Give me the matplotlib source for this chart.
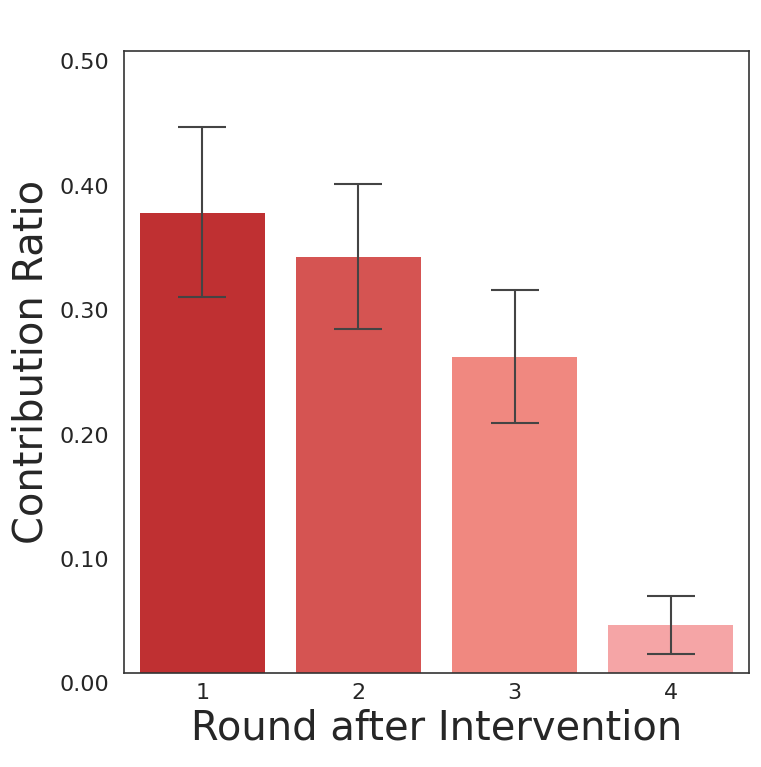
import matplotlib
matplotlib.use("Agg")
import matplotlib.pyplot as plt
import matplotlib.transforms as mtransforms
import numpy as np

rounds = ["1", "2", "3", "4"]
ratios = [0.370, 0.334, 0.254, 0.0386]
ci_low = [0.302, 0.2765, 0.201, 0.0153]
ci_high = [0.439, 0.393, 0.308, 0.0619]
colors = ["#BF3032", "#D55452", "#F08880", "#F5A5A6"]
yticks = [0.0, 0.1, 0.2, 0.3, 0.4, 0.5]

plt.rcParams['font.family'] = ['DejaVu Sans']
fig = plt.figure(figsize=(7.61, 7.67), dpi=100)
ax = fig.add_axes([0.163, 0.1226, 0.821, 0.811])

x = np.arange(len(rounds))
ax.bar(x, ratios, width=0.8, color=colors)
yerr = [np.array(ratios) - np.array(ci_low), np.array(ci_high) - np.array(ratios)]
ax.errorbar(x, ratios, yerr=yerr, fmt='none', ecolor='#444444', elinewidth=1.5,
            capsize=17, capthick=1.5)

ax.set_xlim(-0.5, 3.5)
ax.set_ylim(0, 0.5)
ax.set_xticks(x)
ax.set_xticklabels(rounds)
ax.set_yticks(yticks)
ax.set_yticklabels([f"{v:.2f}" for v in yticks])
ax.tick_params(axis='y', length=0, labelsize=16, colors='#262626', pad=10.5)
ax.tick_params(axis='x', length=0, labelsize=16, colors='#262626', pad=7)
offset = mtransforms.ScaledTranslation(0, -2.5 / 100, fig.dpi_scale_trans)
for lab in ax.get_yticklabels():
    lab.set_va('top')
    lab.set_transform(lab.get_transform() + offset)
ax.set_xlabel("Round after Intervention", fontsize=28.8, color='#262626', labelpad=4)
ax.set_ylabel("Contribution Ratio", fontsize=28.8, color='#262626', labelpad=6)
for s in ax.spines.values():
    s.set_color('#333333')
    s.set_linewidth(1.2)

fig.savefig("out.png", dpi=100)
